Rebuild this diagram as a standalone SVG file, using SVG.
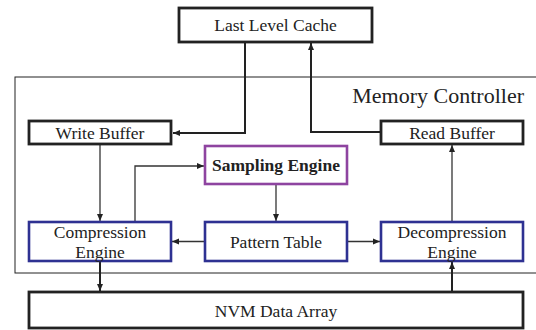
<svg xmlns="http://www.w3.org/2000/svg" width="536" height="330" viewBox="0 0 536 330">
<defs>
<marker id="ah" markerWidth="8" markerHeight="8" refX="7" refY="4" orient="auto" markerUnits="userSpaceOnUse">
<path d="M0,1 L7,4 L0,7 Z" fill="#222"/>
</marker>
</defs>
<style>
text{font-family:"Liberation Serif","Times New Roman",serif;fill:#222;text-anchor:middle}
.blk{fill:#fff;stroke:#222;stroke-width:2.8}
.blu{fill:#fff;stroke:#2e3192;stroke-width:2.6}
.pur{fill:#fff;stroke:#8e44a0;stroke-width:2.6}
.t{font-size:17.5px}
.c{fill:none;stroke:#333;stroke-width:1.3}
.ct{fill:none;stroke:#222;stroke-width:2}
</style>
<rect x="15" y="77" width="530" height="196" fill="none" stroke="#222" stroke-width="1"/>
<text x="524" y="103" style="font-size:22px;text-anchor:end">Memory Controller</text>
<g id="connectors">
<path class="ct" d="M245,42 V133 H173" marker-end="url(#ah)"/>
<path class="ct" d="M381,132 H311 V43" marker-end="url(#ah)"/>
<path class="c" d="M100,145 V221" marker-end="url(#ah)"/>
<path class="c" d="M135,221 V166 H204" marker-end="url(#ah)"/>
<path class="c" d="M276,185 V221" marker-end="url(#ah)"/>
<path class="c" d="M452,221 V145" marker-end="url(#ah)"/>
<path class="c" d="M205,241.5 H172" marker-end="url(#ah)"/>
<path class="c" d="M347,241.5 H380" marker-end="url(#ah)"/>
<path class="ct" d="M100,262 V291" marker-end="url(#ah)"/>
<path class="ct" d="M452,291 V262" marker-end="url(#ah)"/>
</g>
<g id="llc"><rect class="blk" x="179" y="8" width="193" height="34"/><text class="t" x="275.5" y="31">Last Level Cache</text></g>
<g id="write-buffer"><rect class="blk" x="29" y="121" width="142" height="23"/><text class="t" x="100" y="138.5">Write Buffer</text></g>
<g id="read-buffer"><rect class="blk" x="381" y="121" width="142" height="23"/><text class="t" x="452" y="138.5">Read Buffer</text></g>
<g id="sampling-engine"><rect class="pur" x="205" y="146" width="142" height="38"/><text class="t" x="276" y="171" font-weight="bold">Sampling Engine</text></g>
<g id="compression-engine"><rect class="blu" x="29" y="222" width="142" height="39"/><text class="t" x="100" y="237.5">Compression</text><text class="t" x="100" y="258">Engine</text></g>
<g id="pattern-table"><rect class="blu" x="205" y="222" width="142" height="39"/><text class="t" x="276" y="248">Pattern Table</text></g>
<g id="decompression-engine"><rect class="blu" x="381" y="222" width="142" height="39"/><text class="t" x="452" y="237.5">Decompression</text><text class="t" x="452" y="258">Engine</text></g>
<g id="nvm"><rect class="blk" x="29" y="292" width="494" height="36"/><text class="t" x="276" y="316.5">NVM Data Array</text></g>
</svg>
